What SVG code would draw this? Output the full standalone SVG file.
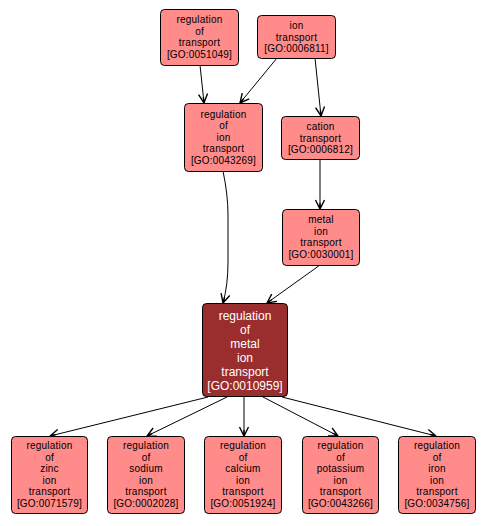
<svg xmlns="http://www.w3.org/2000/svg" width="486" height="526" viewBox="0 0 486 526">
<style>
.n rect{fill:#ff8b8b;stroke:#000;stroke-width:1}
.n text{font-family:"Liberation Sans",Arial,sans-serif;font-size:10px;fill:#000;text-anchor:middle;letter-spacing:0.2px}
.m rect{fill:#9a2d2d;stroke:#000;stroke-width:1}
.m text{font-family:"Liberation Sans",Arial,sans-serif;font-size:12px;fill:#fff;text-anchor:middle}
#edges path{fill:none;stroke:#000;stroke-width:1;marker-end:url(#arr)}
</style>
<defs>
<marker id="arr" markerUnits="userSpaceOnUse" markerWidth="12" markerHeight="12" refX="10" refY="6" orient="auto">
<path d="M1,1.5 L10,6 L1,10.5 M4,6 L10,6" fill="none" stroke="#000" stroke-width="1.4"/>
</marker>
</defs>
<rect width="486" height="526" fill="#fff"/>
<g id="edges">
<path d="M200,65 L204,103"/>
<path d="M277,58 L240,103"/>
<path d="M315,58 L321,116"/>
<path d="M320,159 L320,209"/>
<path d="M223,171 Q228,195 228,215 L228,262 Q228,285 223,303"/>
<path d="M320,265 L267,303"/>
<path d="M208,397 L50,436"/>
<path d="M227,397 L147,436"/>
<path d="M244,397 L244,436"/>
<path d="M263,397 L338,436"/>
<path d="M282,397 L436,436"/>
</g>
<g id="GO0051049" class="n"><rect x="160.5" y="9.5" width="78" height="56" rx="4"/>
<text x="199.5" y="23.3">regulation</text><text x="199.5" y="34.8">of</text><text x="199.5" y="46.3">transport</text><text x="199.5" y="57.8">[GO:0051049]</text></g>
<g id="GO0006811" class="n"><rect x="257.5" y="15.5" width="78" height="43" rx="4"/>
<text x="296.5" y="29">ion</text><text x="296.5" y="40.5">transport</text><text x="296.5" y="52">[GO:0006811]</text></g>
<g id="GO0043269" class="n"><rect x="184.5" y="103.5" width="78" height="68" rx="4"/>
<text x="223.5" y="117.5">regulation</text><text x="223.5" y="129">of</text><text x="223.5" y="140.5">ion</text><text x="223.5" y="152">transport</text><text x="223.5" y="163.5">[GO:0043269]</text></g>
<g id="GO0006812" class="n"><rect x="281.5" y="116.5" width="78" height="43" rx="4"/>
<text x="320.5" y="130">cation</text><text x="320.5" y="141.5">transport</text><text x="320.5" y="153">[GO:0006812]</text></g>
<g id="GO0030001" class="n"><rect x="282.5" y="209.5" width="77" height="56" rx="4"/>
<text x="321" y="223.3">metal</text><text x="321" y="234.8">ion</text><text x="321" y="246.3">transport</text><text x="321" y="257.8">[GO:0030001]</text></g>
<g id="GO0010959" class="m"><rect x="202.5" y="303.5" width="85" height="93" rx="4"/>
<text x="245" y="319.5">regulation</text><text x="245" y="333.5">of</text><text x="245" y="347.5">metal</text><text x="245" y="361.5">ion</text><text x="245" y="375.5">transport</text><text x="245" y="389.5">[GO:0010959]</text></g>
<g id="GO0071579" class="n"><rect x="11.5" y="436.5" width="76" height="77" rx="4"/>
<text x="49.5" y="449.3">regulation</text><text x="49.5" y="460.8">of</text><text x="49.5" y="472.3">zinc</text><text x="49.5" y="483.8">ion</text><text x="49.5" y="495.3">transport</text><text x="49.5" y="506.8">[GO:0071579]</text></g>
<g id="GO0002028" class="n"><rect x="107.5" y="436.5" width="77" height="77" rx="4"/>
<text x="146" y="449.3">regulation</text><text x="146" y="460.8">of</text><text x="146" y="472.3">sodium</text><text x="146" y="483.8">ion</text><text x="146" y="495.3">transport</text><text x="146" y="506.8">[GO:0002028]</text></g>
<g id="GO0051924" class="n"><rect x="204.5" y="436.5" width="77" height="77" rx="4"/>
<text x="243" y="449.3">regulation</text><text x="243" y="460.8">of</text><text x="243" y="472.3">calcium</text><text x="243" y="483.8">ion</text><text x="243" y="495.3">transport</text><text x="243" y="506.8">[GO:0051924]</text></g>
<g id="GO0043266" class="n"><rect x="302.5" y="436.5" width="76" height="77" rx="4"/>
<text x="340.5" y="449.3">regulation</text><text x="340.5" y="460.8">of</text><text x="340.5" y="472.3">potassium</text><text x="340.5" y="483.8">ion</text><text x="340.5" y="495.3">transport</text><text x="340.5" y="506.8">[GO:0043266]</text></g>
<g id="GO0034756" class="n"><rect x="398.5" y="436.5" width="77" height="77" rx="4"/>
<text x="437" y="449.3">regulation</text><text x="437" y="460.8">of</text><text x="437" y="472.3">iron</text><text x="437" y="483.8">ion</text><text x="437" y="495.3">transport</text><text x="437" y="506.8">[GO:0034756]</text></g>
</svg>
